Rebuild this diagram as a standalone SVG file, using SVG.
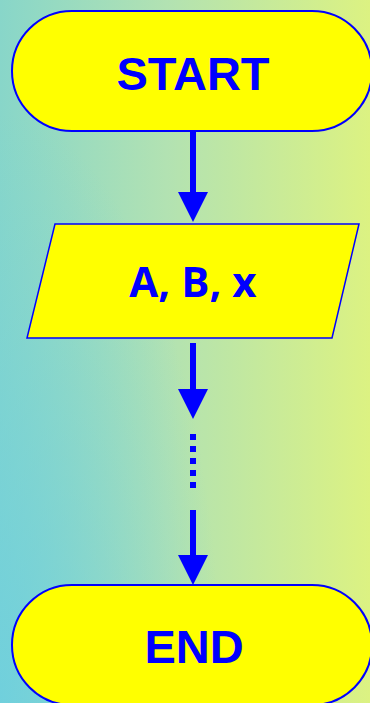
<svg xmlns="http://www.w3.org/2000/svg" width="370" height="703" viewBox="0 0 370 703">
  <defs>
    <linearGradient id="bg" x1="0" y1="0" x2="1" y2="0">
      <stop offset="0" stop-color="#88d6c9"/>
      <stop offset="0.45" stop-color="#b2e2b2"/>
      <stop offset="1" stop-color="#dcf282"/>
    </linearGradient>
    <radialGradient id="cy" cx="0" cy="1" r="0.6" gradientUnits="objectBoundingBox" gradientTransform="translate(0,1) scale(1,1.4) translate(0,-1)">
      <stop offset="0" stop-color="#6ccfe0" stop-opacity="0.85"/>
      <stop offset="1" stop-color="#6ccfe0" stop-opacity="0"/>
    </radialGradient>
    <marker id="ah" markerUnits="userSpaceOnUse" markerWidth="30" markerHeight="30" viewBox="0 0 30 30" refX="0" refY="15" orient="auto">
      <path d="M0,0 L30,15 L0,30 Z" fill="#0000ff"/>
    </marker>
    <style>
      .term { fill: #ffff00; stroke: #0000ff; stroke-width: 2; }
      .io { fill: #ffff00; stroke: #0000ff; stroke-width: 1.5; }
      .lbl { fill: #0000ff; font-family: "Liberation Sans", Arial, sans-serif; font-weight: bold; font-size: 47px; text-anchor: middle; }
      .lbl2 { fill: #0000ff; font-family: "Open Sans", "Liberation Sans", sans-serif; font-weight: bold; font-size: 42px; text-anchor: middle; }
      .conn { stroke: #0000ff; stroke-width: 6; fill: none; }
    </style>
  </defs>
  <rect x="0" y="0" width="370" height="703" fill="url(#bg)"/>
  <rect x="0" y="0" width="370" height="703" fill="url(#cy)"/>
  <g id="connectors">
    <path class="conn" d="M193,131 L193,192" marker-end="url(#ah)"/>
    <path class="conn" d="M193,343 L193,389" marker-end="url(#ah)"/>
    <path class="conn" d="M193,434 L193,489" stroke-dasharray="6 6"/>
    <path class="conn" d="M193,510 L193,555" marker-end="url(#ah)"/>
  </g>
  <g id="start">
    <rect class="term" x="12" y="11" width="360" height="120" rx="60" ry="60"/>
    <text class="lbl" x="193" y="90">START</text>
  </g>
  <g id="input">
    <polygon class="io" points="55,224 359,224 332,338 27,338"/>
    <text class="lbl2" x="193" y="297">A, B, x</text>
  </g>
  <g id="end">
    <rect class="term" x="12" y="585" width="360" height="120" rx="60" ry="60"/>
    <text class="lbl" x="194" y="663">END</text>
  </g>
</svg>
